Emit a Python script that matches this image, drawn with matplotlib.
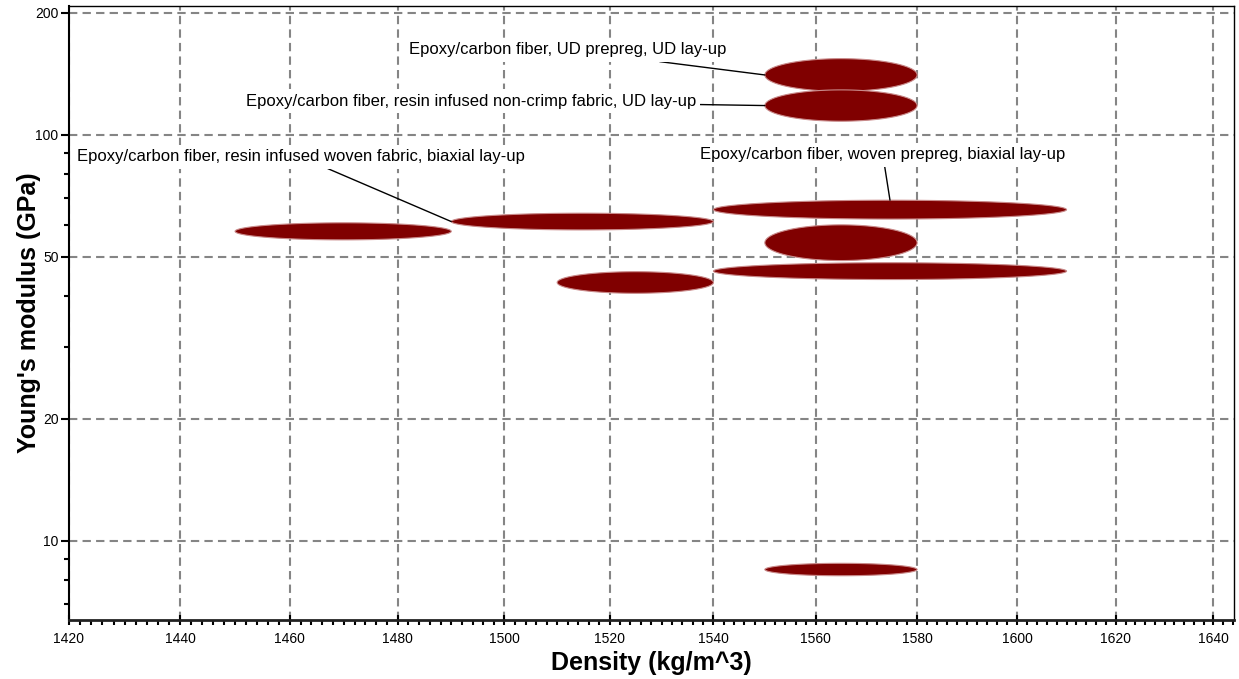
import numpy as np
import matplotlib.pyplot as plt
from matplotlib.ticker import FixedLocator, NullFormatter, FuncFormatter

plt.rcParams['font.family'] = ['Liberation Sans', 'DejaVu Sans']

# material bubbles: density range (kg/m^3) and Young's modulus range (GPa)
density_lo = [1550, 1550, 1540, 1550, 1540, 1450, 1490, 1510, 1550]
density_hi = [1580, 1580, 1610, 1580, 1610, 1490, 1540, 1540, 1580]
modulus_lo = [128, 108, 62, 49, 44, 55.1, 58.3, 40.7, 8.2]
modulus_hi = [154, 129, 69, 60, 48.4, 60.7, 64.1, 46, 8.8]
labels = [
    'Epoxy/carbon fiber, UD prepreg, UD lay-up',
    'Epoxy/carbon fiber, resin infused non-crimp fabric, UD lay-up',
    'Epoxy/carbon fiber, woven prepreg, biaxial lay-up',
    None, None, None,
    'Epoxy/carbon fiber, resin infused woven fabric, biaxial lay-up',
    None, None,
]

x_major = list(range(1420, 1641, 20))
x_minor = list(range(1420, 1645, 2))
y_major = [10, 20, 50, 100, 200]
y_minor = [7, 8, 9, 30, 40, 60, 70, 80, 90]

# label placement: (text x, text y, where the leader line meets the bubble)
label_pos = {
    0: (1512, 161.8, 'left'),
    1: (1493.7, 121.1, 'left'),
    2: (1573.2, 89.2, 'top'),
    6: (1462, 88.2, 'left'),
}

fig = plt.figure(figsize=(12.39, 6.79), dpi=100)
ax = fig.add_axes([69 / 1239, 59 / 679, 1165 / 1239, 614 / 679])
ax.set_xscale('log')
ax.set_yscale('log')
ax.set_xlim(1420, 1644.3)
ax.set_ylim(6.38, 207.6)

t = np.linspace(0, 2 * np.pi, 300)
for i, (dlo, dhi, mlo, mhi) in enumerate(zip(density_lo, density_hi, modulus_lo, modulus_hi)):
    cx = (np.log10(dlo) + np.log10(dhi)) / 2
    rx = (np.log10(dhi) - np.log10(dlo)) / 2
    cy = (np.log10(mlo) + np.log10(mhi)) / 2
    ry = (np.log10(mhi) - np.log10(mlo)) / 2
    ax.fill(10 ** (cx + rx * np.cos(t)), 10 ** (cy + ry * np.sin(t)),
            fc='#800000', ec='#c98a8a', lw=0.8, zorder=3)

    if labels[i] is not None:
        tx, ty, anchor = label_pos[i]
        if anchor == 'left':
            target = (dlo, 10 ** cy)
        else:
            target = (10 ** cx, mhi)
        ax.annotate(labels[i], xy=target, xytext=(tx, ty), fontsize=12,
                    ha='center', va='center', zorder=5,
                    bbox=dict(boxstyle='square,pad=0.25', fc='white', ec='none'),
                    arrowprops=dict(arrowstyle='-', color='black', lw=1,
                                    shrinkA=0, shrinkB=0))

ax.xaxis.set_major_locator(FixedLocator(x_major))
ax.xaxis.set_minor_locator(FixedLocator(x_minor))
ax.xaxis.set_major_formatter(FuncFormatter(lambda v, p: f'{v:g}'))
ax.xaxis.set_minor_formatter(NullFormatter())
ax.yaxis.set_major_locator(FixedLocator(y_major))
ax.yaxis.set_minor_locator(FixedLocator(y_minor))
ax.yaxis.set_major_formatter(FuncFormatter(lambda v, p: f'{v:g}'))
ax.yaxis.set_minor_formatter(NullFormatter())

ax.set_axisbelow(True)
ax.grid(which='major', color='#858585', linestyle=(0, (4, 2.5)), linewidth=1.5)

ax.tick_params(axis='x', which='major', direction='inout', length=7, width=1.5,
               labelsize=10, pad=5)
ax.tick_params(axis='x', which='minor', direction='out', length=3.5, width=1.5)
ax.tick_params(axis='y', which='major', direction='out', length=6, width=1.5,
               labelsize=10, pad=1.5)
ax.tick_params(axis='y', which='minor', direction='out', length=3.5, width=1.5)

ax.spines['left'].set_linewidth(1.5)
ax.spines['bottom'].set_linewidth(2)
ax.spines['bottom'].set_color('#222222')
ax.spines['top'].set_linewidth(1)
ax.spines['right'].set_linewidth(1)

ax.set_xlabel('Density (kg/m^3)', fontsize=18, fontweight='bold', labelpad=4)
ax.set_ylabel("Young's modulus (GPa)", fontsize=18, fontweight='bold', labelpad=-4.5)

plt.savefig('out.png', dpi=100)
